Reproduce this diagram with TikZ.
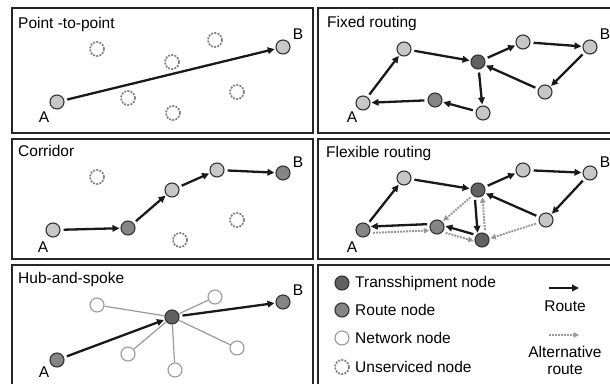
\documentclass[tikz,border=0pt]{standalone}
\usepackage{fontspec}
\setmainfont{Liberation Sans}
\usetikzlibrary{arrows.meta}

\begin{document}
\begin{tikzpicture}[x=1pt, y=-1pt,
  panel/.style={draw=black!85, line width=2.6pt},
  title/.style={anchor=base west, inner sep=0pt, font=\fontsize{15.5}{17}\selectfont},
  lbl/.style={inner sep=0pt, font=\fontsize{15.5}{17}\selectfont},
  nd/.style={circle, draw=black!80, line width=1.1pt, minimum size=14pt, inner sep=0pt},
  netnode/.style={nd, fill=black!22},
  routenode/.style={nd, fill=black!48},
  hubnode/.style={nd, fill=black!62},
  spoke/.style={nd, draw=black!40, fill=white},
  unserviced/.style={nd, draw=black!50, line width=1.7pt, dash pattern=on 2pt off 1.2pt, fill=white},
  route/.style={-{Triangle[length=7pt,width=6.5pt]}, line width=2.3pt, black!90, shorten <=3pt, shorten >=1pt},
  altroute/.style={-{Triangle[length=5.5pt,width=5.5pt]}, line width=1.9pt, black!40, dash pattern=on 2pt off 1pt, shorten <=3pt, shorten >=1pt},
  link/.style={draw=black!40, line width=1.2pt}
]
\useasboundingbox (0,0) rectangle (610,383);
\clip (0,0) rectangle (610,383);

% frames
\draw[panel] (12,8) rectangle (313,133);
\draw[panel] (318,8) rectangle (640,133);
\draw[panel] (12,139) rectangle (313,259);
\draw[panel] (318,139) rectangle (640,259);
\draw[panel] (12,265) rectangle (313,400);
\draw[panel] (318,265) rectangle (640,400);

% point-to-point
\node[title] (t1) at (18,28) {Point -to-point};
\foreach \x/\y [count=\i] in {97/49,215/40,172/62,128/98,237/92,173/113}
  \node[unserviced] (pu\i) at (\x,\y) {};
\node[netnode] (pA) at (57,102) {};
\node[netnode] (pB) at (283,47) {};
\node[lbl] (pAl) at (44,117) {A};
\node[lbl] (pBl) at (298,34) {B};
\draw[route] (pA) -- (pB);

% fixed routing
\node[title] (t2) at (327,27) {Fixed routing};
\node[netnode] (fA) at (363,103) {};
\node[netnode] (f1) at (404,49) {};
\node[hubnode] (fT) at (478,62) {};
\node[netnode] (f2) at (523,42) {};
\node[netnode] (fB) at (590,47) {};
\node[netnode] (f3) at (545,92) {};
\node[netnode] (f4) at (483,113) {};
\node[routenode] (fR) at (435,100) {};
\node[lbl] (fAl) at (352,117) {A};
\node[lbl] (fBl) at (605,34) {B};
\foreach \a/\b in {fA/f1,f1/fT,fT/f2,f2/fB,fB/f3,f3/fT,fT/f4,f4/fR,fR/fA}
  \draw[route] (\a) -- (\b);

% corridor
\node[title] (t3) at (18,156) {Corridor};
\foreach \x/\y [count=\i] in {97/177,237/220,180/240}
  \node[unserviced] (cu\i) at (\x,\y) {};
\node[netnode] (cA) at (53,230) {};
\node[routenode] (c1) at (128,228) {};
\node[netnode] (c2) at (172,190) {};
\node[netnode] (c3) at (217,170) {};
\node[routenode] (cB) at (283,173) {};
\node[lbl] (cAl) at (43,247) {A};
\node[lbl] (cBl) at (298,162) {B};
\foreach \a/\b in {cA/c1,c1/c2,c2/c3,c3/cB}
  \draw[route] (\a) -- (\b);

% flexible routing
\node[title] (t4) at (326,157) {Flexible routing};
\node[routenode] (xA) at (363,230) {};
\node[netnode] (x1) at (404,178) {};
\node[hubnode] (xT) at (478,190) {};
\node[netnode] (x2) at (523,170) {};
\node[netnode] (xB) at (590,173) {};
\node[netnode] (x3) at (546,220) {};
\node[hubnode] (x4) at (482,240) {};
\node[routenode] (xR) at (437,227) {};
\node[lbl] (xAl) at (352,247) {A};
\node[lbl] (xBl) at (605,162) {B};
\foreach \a/\b in {xA/x1,x1/xT,xT/x2,x2/xB,xB/x3,x3/xT}
  \draw[route] (\a) -- (\b);
\draw[route] (xR.157) -- (xA.27);
\draw[route] (xT.245) -- (x4.125);
\draw[route] (x4.139) -- (xR.9);
\draw[altroute] (xA.-23) -- (xR.207);
\draw[altroute] (x4.65) -- (xT.305);
\draw[altroute] (xR.319) -- (x4.189);
\draw[altroute] (xT.225) -- (xR.45);
\draw[altroute] (x3.200) -- (x4.10);

% hub-and-spoke
\node[title] (t5) at (18,283) {Hub-and-spoke};
\node[hubnode] (hH) at (172,317) {};
\foreach \x/\y [count=\i] in {97/305,215/297,237/348,175/370,128/354} {
  \node[spoke] (hs\i) at (\x,\y) {};
  \draw[link] (hH) -- (hs\i);
}
\node[routenode] (hA) at (57,360) {};
\node[routenode] (hB) at (283,302) {};
\node[lbl] (hAl) at (44,372) {A};
\node[lbl] (hBl) at (298,290) {B};
\draw[route] (hA) -- (hH);
\draw[route] (hH) -- (hB);

% legend
\node[hubnode] (k1) at (342,283) {};
\node[routenode] (k2) at (342,310) {};
\node[spoke] (k3) at (342,338) {};
\node[unserviced] (k4) at (342,367) {};
\node[lbl, anchor=west] (k1t) at (355,283) {Transshipment node};
\node[lbl, anchor=west] (k2t) at (355,310) {Route node};
\node[lbl, anchor=west] (k3t) at (355,338) {Network node};
\node[lbl, anchor=west] (k4t) at (355,367) {Unserviced node};
\coordinate (r0) at (549,288);
\coordinate (r1) at (579,288);
\draw[route, shorten <=0pt, shorten >=0pt] (r0) -- (r1);
\node[lbl] (rt) at (565,306) {Route};
\coordinate (a0) at (549,335);
\coordinate (a1) at (579,335);
\draw[altroute, shorten <=0pt, shorten >=0pt] (a0) -- (a1);
\node[lbl] (at1) at (565,352) {Alternative};
\node[lbl] (at2) at (565,370) {route};
\end{tikzpicture}
\end{document}
